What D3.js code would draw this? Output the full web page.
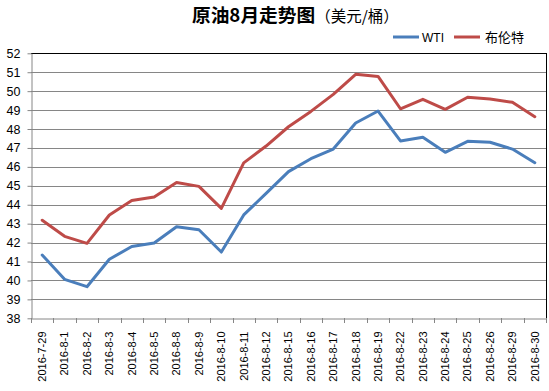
<!DOCTYPE html>
<html><head><meta charset="utf-8">
<script src="https://cdn.jsdelivr.net/npm/d3@7/dist/d3.min.js"></script>
<style>body{margin:0;background:#fff;}svg{display:block;font-family:Arial,"Liberation Sans",sans-serif;}</style>
</head><body>
<script>
const categories = ["2016-7-29","2016-8-1","2016-8-2","2016-8-3","2016-8-4","2016-8-5","2016-8-8","2016-8-9","2016-8-10","2016-8-11","2016-8-12","2016-8-15","2016-8-16","2016-8-17","2016-8-18","2016-8-19","2016-8-22","2016-8-23","2016-8-24","2016-8-25","2016-8-26","2016-8-29","2016-8-30"];
const wti = [41.34,40.06,39.67,41.12,41.79,41.98,42.84,42.68,41.5,43.46,44.6,45.75,46.43,46.94,48.32,48.95,47.37,47.56,46.77,47.35,47.3,46.94,46.22];
const brent = [43.18,42.33,41.96,43.46,44.22,44.41,45.17,44.97,43.81,46.21,47.1,48.12,48.93,49.83,50.89,50.78,49.07,49.57,49.04,49.68,49.59,49.41,48.65];
const yTicks = [38,39,40,41,42,43,44,45,46,47,48,49,50,51,52];
const seriesNames = ["WTI","布伦特"];
const colors = ["#4a7ebb","#be4b48"];

const W=549,H=391;
const svg=d3.select("body").append("svg").attr("width",W).attr("height",H);
const L=31,R=546,T=53.3,B=318.3;
const x=d3.scaleBand().domain(categories).range([L,R]);
const y=d3.scaleLinear().domain([38,52]).range([B,T]);

// gridlines
svg.append("g").selectAll("line").data(yTicks.filter(d=>d>38&&d<52)).join("line")
 .attr("x1",L).attr("x2",R).attr("y1",d=>Math.round(y(d))+0.5).attr("y2",d=>Math.round(y(d))+0.5)
 .attr("stroke","#868686").attr("stroke-width",1);
// border top & right
svg.append("line").attr("x1",L).attr("x2",R+0.5).attr("y1",Math.round(T)+0.5).attr("y2",Math.round(T)+0.5).attr("stroke","#000");
svg.append("line").attr("x1",R+0.5).attr("x2",R+0.5).attr("y1",Math.round(T)).attr("y2",Math.round(B)+0.5).attr("stroke","#000");

// y axis
const ya=svg.append("g").attr("transform",`translate(${L+0.5},0)`)
 .call(d3.axisLeft(y).tickValues(yTicks).tickSize(4).tickSizeOuter(0).tickPadding(7));
ya.select(".domain").attr("stroke","#868686");
ya.selectAll(".tick line").attr("stroke","#868686");
ya.selectAll("text").attr("font-size",12.5).attr("fill","#000");

// x axis
const xa=svg.append("g").attr("transform",`translate(0,${Math.round(B)+0.5})`)
 .call(d3.axisBottom(x).tickSize(0).tickSizeOuter(0));
xa.select(".domain").attr("stroke","#868686");
xa.selectAll(".tick line").remove();
xa.selectAll("text").attr("font-size",11).attr("fill","#000")
 .attr("transform","rotate(-90)").attr("text-anchor","end").attr("dy","0.35em").attr("x",-13).attr("y",0);
// x boundary ticks
const bounds=categories.map(c=>x(c)).concat([R]);
svg.append("g").selectAll("line").data(bounds).join("line")
 .attr("x1",d=>Math.round(d)+0.5).attr("x2",d=>Math.round(d)+0.5)
 .attr("y1",Math.round(B)).attr("y2",Math.round(B)+5).attr("stroke","#868686");

// lines
const line=d3.line().x((d,i)=>x(categories[i])+x.bandwidth()/2).y(d=>y(d));
[wti,brent].forEach((s,k)=>{
 svg.append("path").datum(s).attr("d",line).attr("fill","none")
  .attr("stroke",colors[k]).attr("stroke-width",3).attr("stroke-linejoin","round").attr("stroke-linecap","round");
});

// title
const t=svg.append("text").attr("x",192).attr("y",22).attr("fill","#000");
t.append("tspan").attr("font-size",18.7).attr("font-weight","bold").attr("font-family","'Noto Sans CJK SC',sans-serif").text("原油8月走势图");
t.append("tspan").attr("font-size",15.5).attr("font-family","'Noto Sans CJK SC',sans-serif").text("（美元/桶）");

// legend
const lg=[{x:393,tx:422},{x:454,tx:485}];
seriesNames.forEach((n,k)=>{
 svg.append("line").attr("x1",lg[k].x).attr("x2",lg[k].x+26).attr("y1",37).attr("y2",37)
  .attr("stroke",colors[k]).attr("stroke-width",3);
 svg.append("text").attr("x",lg[k].tx).attr("y",41.5).attr("font-size",k==1?13:12)
  .attr("font-family",k==1?"'Noto Sans CJK SC',sans-serif":"Arial,'Liberation Sans',sans-serif").text(n);
});
</script>
</body></html>
